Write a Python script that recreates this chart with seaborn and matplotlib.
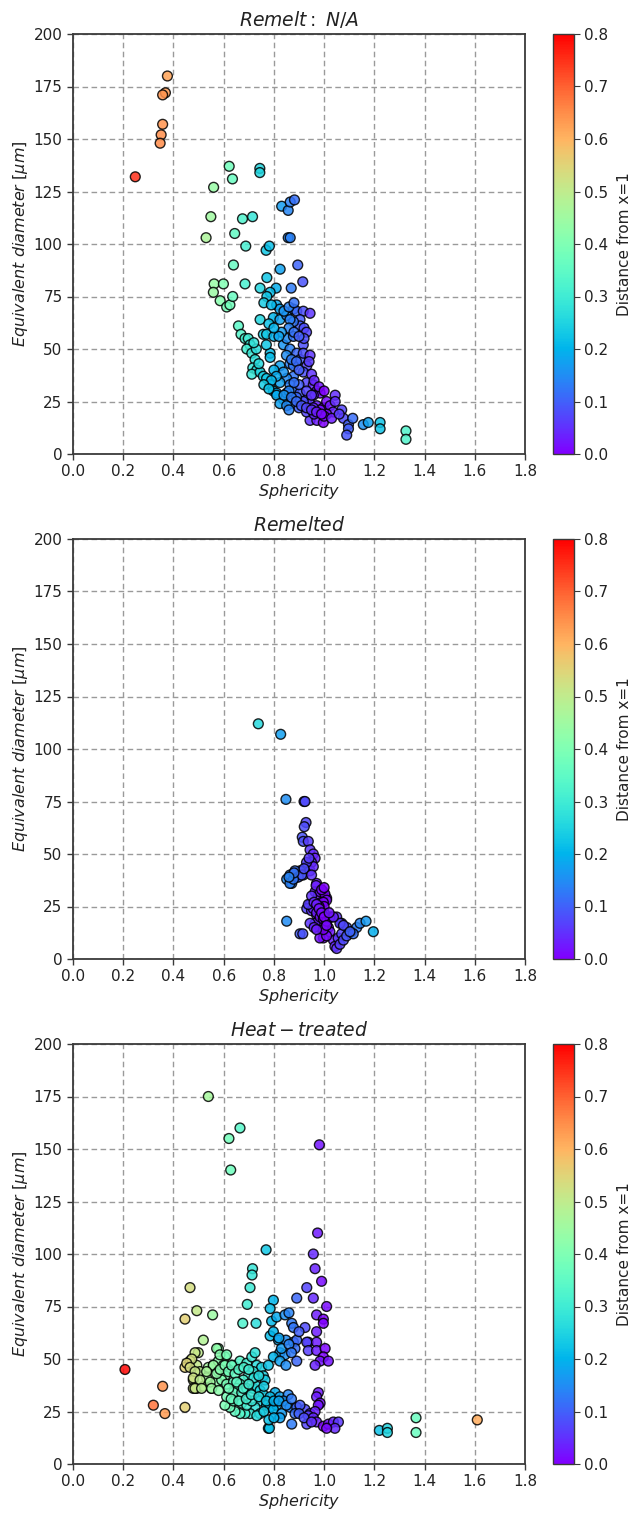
import numpy as np
import pandas as pd
import matplotlib
matplotlib.use("Agg")
import matplotlib.pyplot as plt
import seaborn as sns

# Sphericity / equivalent diameter
remelt_na_x = [
    0.376, 0.368, 0.357, 0.357, 0.351, 0.347, 0.248,
    0.622, 0.635, 0.744, 0.744, 0.560, 0.549, 0.530, 0.675, 0.715, 0.644, 0.688, 0.769, 0.782,
    0.831, 0.857, 0.865, 0.882, 0.857, 0.865,
    0.639, 0.895, 0.825, 0.772, 0.685, 0.915, 0.562, 0.599, 0.559, 0.586, 0.612, 0.625, 0.636,
    0.745, 0.809, 0.785, 0.869, 0.772,
    0.659, 0.669, 0.685, 0.698, 0.705, 0.692, 0.712, 0.725, 0.716, 0.732, 0.712, 0.745, 0.758,
    0.771, 0.785, 0.798, 0.811,
    0.745, 0.758, 0.771, 0.785, 0.785, 0.824, 0.838, 0.851, 0.878, 0.864, 0.891, 0.904, 0.864,
    0.878, 0.917, 0.917, 0.944, 0.931, 0.917, 0.878, 0.851, 0.838, 0.824, 0.864, 0.878, 0.904,
    0.838, 0.851, 0.811,
    0.811, 0.824, 0.798, 0.824, 0.851, 0.878, 0.891, 0.917, 0.944, 0.904, 0.904, 0.878, 0.864,
    0.931, 0.957, 0.971, 0.984, 0.957, 0.931, 0.944, 0.971, 0.997, 1.010, 1.024, 1.044, 1.044,
    1.070, 1.036, 1.010, 0.984, 0.957, 0.917,
    0.944, 0.971, 0.997, 1.077, 1.097, 1.097, 1.090, 1.114, 1.156, 1.176, 1.223, 1.223, 1.326, 1.326,
    0.920, 0.930, 0.920, 0.940, 0.950, 0.960, 0.980, 1.000, 0.900, 0.890, 0.870, 0.900, 0.930,
    0.960, 1.000, 1.030, 1.060, 0.824, 0.851, 0.860,
    0.840, 0.860, 0.880, 0.860, 0.880, 0.900, 0.830, 0.850, 0.870, 0.890, 0.900, 0.880, 0.860,
    0.840, 0.870, 0.890, 0.910, 0.930, 0.950, 0.970, 0.990, 0.930, 0.950, 0.800, 0.810, 0.790,
    0.760, 0.780, 0.740, 0.730, 0.720, 0.800, 0.820, 0.780, 0.760, 0.790, 0.800, 0.770,
]
remelt_na_y = [
    180, 172, 171, 157, 152, 148, 132,
    137, 131, 136, 134, 127, 113, 103, 112, 113, 105, 99, 97, 99,
    118, 116, 120, 121, 103, 103,
    90, 90, 88, 84, 81, 82, 81, 81, 77, 73, 70, 71, 75,
    79, 79, 77, 79, 75,
    61, 57, 55, 55, 52, 50, 48, 45, 41, 40, 38, 39, 37,
    36, 33, 30, 29,
    64, 57, 57, 48, 46, 42, 52, 55, 56, 50, 48, 45, 43,
    42, 52, 48, 47, 42, 39, 37, 36, 39, 34, 33, 30, 29,
    26, 29, 28,
    71, 69, 65, 64, 66, 69, 68, 68, 67, 64, 61, 63, 64,
    34, 33, 30, 29, 28, 26, 24, 23, 22, 25, 23, 28, 25,
    21, 20, 19, 21, 22, 25,
    16, 16, 15, 17, 14, 12, 9, 17, 14, 15, 15, 12, 11, 7,
    60, 58, 55, 44, 38, 35, 32, 30, 33, 27, 24, 22, 20,
    19, 18, 17, 19, 24, 23, 21,
    68, 70, 72, 60, 58, 56, 58, 47, 45, 44, 40, 34, 30,
    28, 27, 25, 23, 22, 21, 20, 19, 30, 28, 40, 37, 35,
    33, 31, 43, 50, 53, 56, 56, 62, 72, 71, 60, 52,
]

remelted_x = [
    0.738, 0.827, 0.848, 0.920, 0.924, 0.928, 0.921, 0.913, 0.917, 0.937, 0.944, 0.957, 0.964,
    0.950, 0.931, 0.904, 0.877, 0.851, 0.871, 0.891, 0.917, 0.944, 0.957, 0.864, 0.884, 0.897,
    0.910, 0.864, 0.878,
    0.970, 0.964, 0.977, 0.997, 1.010, 0.990, 0.944, 0.931, 0.950, 0.970, 0.983, 1.003, 1.017,
    0.997, 0.983, 0.964, 0.944, 0.997, 0.983,
    1.030, 1.050, 1.070, 1.090, 1.110, 1.130, 1.143, 1.167, 1.196, 1.037, 1.043, 1.056, 1.070, 1.097,
    0.851, 0.904, 0.915, 1.050, 1.063, 1.077, 1.090, 1.116, 1.023, 1.010, 0.997, 1.063, 1.077,
    1.103, 0.984, 1.003, 1.010, 0.997, 0.968, 0.957, 0.970, 0.984, 0.997, 1.010, 1.023, 1.037,
    0.937, 1.000, 1.000, 0.980,
    0.950, 0.960, 0.970, 0.980, 0.990, 1.000, 0.960, 0.970, 1.010, 1.020, 0.990, 1.000, 0.930,
    0.940, 0.920, 0.950, 0.880, 0.860,
]
remelted_y = [
    112, 107, 76, 75, 75, 65, 63, 58, 56, 56, 52, 50, 48,
    46, 44, 42, 40, 38, 36, 39, 40, 42, 44, 40, 42, 39,
    40, 36, 38,
    36, 32, 30, 32, 29, 27, 26, 24, 23, 21, 19, 17, 15,
    13, 15, 17, 17, 10, 10,
    20, 20, 17, 15, 13, 15, 17, 18, 13, 9, 6, 10, 12, 12,
    18, 12, 12, 5, 7, 9, 11, 12, 13, 11, 14, 17, 16,
    13, 32, 31, 28, 27, 35, 24, 22, 20, 19, 18, 20, 20,
    26, 22, 25, 25,
    30, 27, 26, 24, 22, 20, 15, 14, 16, 22, 33, 34, 46,
    48, 43, 40, 41, 39,
]

heat_treated_x = [
    0.539, 0.665, 0.621, 0.628, 0.981, 0.769, 0.974, 0.957, 0.964, 0.715, 0.713, 0.990,
    0.705, 0.694, 0.676, 0.729, 0.466, 0.493, 0.556, 0.446, 0.519,
    0.499, 0.466, 0.446, 0.493, 0.506, 0.479, 0.493, 0.479, 0.519, 0.552, 0.532, 0.539, 0.559,
    0.207, 0.357, 0.320, 0.366, 0.446,
    0.579, 0.605, 0.579, 0.559, 0.599, 0.639, 0.619, 0.579, 0.605, 0.572, 0.592, 0.612, 0.639,
    0.665, 0.692, 0.712, 0.725, 0.732, 0.751, 0.758, 0.765, 0.718, 0.698, 0.678, 0.665, 0.652,
    0.639, 0.672, 0.692, 0.718, 0.732, 0.745, 0.758, 0.745, 0.725, 0.705, 0.685, 0.665, 0.645,
    0.625, 0.605, 0.612, 0.639, 0.672, 0.692, 0.712, 0.771, 0.785, 0.745, 0.732, 0.778,
    0.785, 0.798, 0.818, 0.824, 0.798, 0.778, 0.798, 0.785, 0.791, 0.811, 0.844, 0.871, 0.878,
    0.848, 0.878, 0.891, 0.884, 0.844, 0.824, 0.848, 0.891, 0.937, 0.924, 0.891,
    0.805, 0.785, 0.824, 0.857, 0.838, 0.811, 0.798, 0.831, 0.864, 0.891, 0.884, 0.871, 0.824,
    0.782, 0.924, 0.944, 0.904,
    0.931, 0.957, 1.010, 0.970, 0.997, 0.997, 0.970, 0.931, 0.970, 0.937, 0.970, 1.004, 0.997,
    0.984, 1.017, 0.964,
    0.977, 0.970, 0.984, 0.977, 0.964, 0.937, 0.957, 0.931, 0.970, 0.997, 1.017, 1.037, 1.057,
    1.043, 1.010,
    1.220, 1.252, 1.252, 1.366, 1.366, 1.610,
    0.572, 0.585, 0.612, 0.486, 0.473, 0.453, 0.466, 0.486, 0.479, 0.506, 0.486, 0.512, 0.546,
    0.552, 0.532, 0.572, 0.586, 0.605, 0.619, 0.632, 0.645, 0.652, 0.678,
    0.660, 0.680, 0.700, 0.720, 0.740, 0.760, 0.700, 0.620, 0.580, 0.630, 0.660, 0.690, 0.710,
    0.740, 0.770, 0.800, 0.820, 0.850, 0.870, 0.900, 0.920, 0.950, 0.760, 0.780, 0.800, 0.830,
    0.860, 0.870, 0.820, 0.900, 0.860,
]
heat_treated_y = [
    175, 160, 155, 140, 152, 102, 110, 100, 93, 93, 90, 87,
    84, 76, 67, 67, 84, 73, 71, 69, 59,
    53, 49, 46, 47, 44, 40, 36, 36, 37, 36, 41, 46, 47,
    45, 37, 28, 24, 27,
    55, 51, 49, 47, 47, 47, 45, 44, 42, 39, 40, 38, 39,
    49, 48, 51, 53, 47, 46, 42, 40, 44, 42, 40, 38, 36,
    34, 34, 36, 36, 37, 35, 33, 30, 27, 24, 24, 24, 25,
    27, 28, 32, 30, 29, 28, 30, 28, 27, 24, 23, 17,
    61, 63, 59, 53, 51, 47, 78, 74, 68, 70, 71, 67, 65,
    59, 58, 59, 55, 52, 49, 47, 49, 58, 65, 79,
    34, 32, 32, 33, 30, 28, 26, 24, 27, 27, 24, 19, 22,
    17, 26, 24, 28,
    84, 79, 75, 71, 69, 67, 63, 58, 58, 54, 54, 55, 51,
    49, 49, 47,
    34, 32, 29, 28, 25, 23, 22, 19, 20, 18, 19, 20, 20,
    17, 17,
    16, 17, 15, 22, 15, 21,
    55, 52, 52, 53, 50, 48, 46, 44, 41, 40, 36, 36, 39,
    36, 44, 43, 45, 47, 44, 47, 43, 39, 36,
    45, 46, 45, 41, 42, 37, 38, 36, 35, 31, 30, 31, 33,
    32, 30, 30, 30, 28, 31, 24, 22, 20, 25, 21, 22, 55,
    57, 53, 60, 63, 72,
]

titles = ["$Remelt:\\ N/A$", "$Remelted$", "$Heat-treated$"]
panels = [
    (remelt_na_x, remelt_na_y),
    (remelted_x, remelted_y),
    (heat_treated_x, heat_treated_y),
]

sns.set_style("whitegrid")
plt.rcParams["font.family"] = ["DejaVu Sans"]
plt.rcParams["mathtext.fontset"] = "dejavusans"

spine_color = "#3a3a3a"
text_color = "#222222"
norm = plt.Normalize(0, 0.8)
cmap = plt.get_cmap("rainbow")

fig = plt.figure(figsize=(6.31, 15.14), dpi=100)
W, H = 631, 1514

for k, ((xs, ys), title) in enumerate(zip(panels, titles)):
    df = pd.DataFrame({"sphericity": xs, "diameter": ys})
    df["dist"] = (df["sphericity"] - 1).abs()

    bottom = 1 - (454 + 505 * k) / H
    ax = fig.add_axes([73 / W, bottom, 452 / W, 420 / H])
    cax = fig.add_axes([553 / W, bottom, 21 / W, 420 / H])

    ax.set_axisbelow(True)
    sns.scatterplot(data=df, x="sphericity", y="diameter", hue="dist",
                    palette="rainbow", hue_norm=(0, 0.8), s=50,
                    edgecolor="black", linewidth=1.0, alpha=0.85,
                    legend=False, ax=ax)

    ax.set_xlim(0, 1.8)
    ax.set_ylim(0, 200)
    ax.set_xticks(np.arange(0, 1.81, 0.2))
    ax.set_yticks(np.arange(0, 201, 25))
    ax.set_xticklabels([f"{v:.1f}" for v in np.arange(0, 1.81, 0.2)])
    ax.grid(True, linestyle=(0, (4, 2.5)), color="#9a9a9a", linewidth=1.0)
    for sp in ax.spines.values():
        sp.set_color(spine_color)
        sp.set_linewidth(1.3)
    ax.tick_params(direction="out", length=4, width=1, color=spine_color,
                   labelsize=11, labelcolor=text_color, bottom=True, left=True)
    ax.set_title(title, fontsize=13.5, color=text_color, pad=6)
    ax.set_xlabel("$Sphericity$", fontsize=11.5, color=text_color, labelpad=2)
    ax.set_ylabel("$Equivalent\\ diameter\\ [\\mu m]$", fontsize=11.5,
                  color=text_color, labelpad=3)

    sm = plt.cm.ScalarMappable(norm=norm, cmap=cmap)
    cb = fig.colorbar(sm, cax=cax, ticks=np.arange(0, 0.81, 0.1), format="%.1f")
    cb.outline.set_edgecolor(spine_color)
    cb.outline.set_linewidth(1.0)
    cb.ax.tick_params(labelsize=11, length=4, color=spine_color, labelcolor=text_color)
    cb.set_label("Distance from x=1", fontsize=11, color=text_color, labelpad=6)

fig.savefig("out.png", dpi=100)
